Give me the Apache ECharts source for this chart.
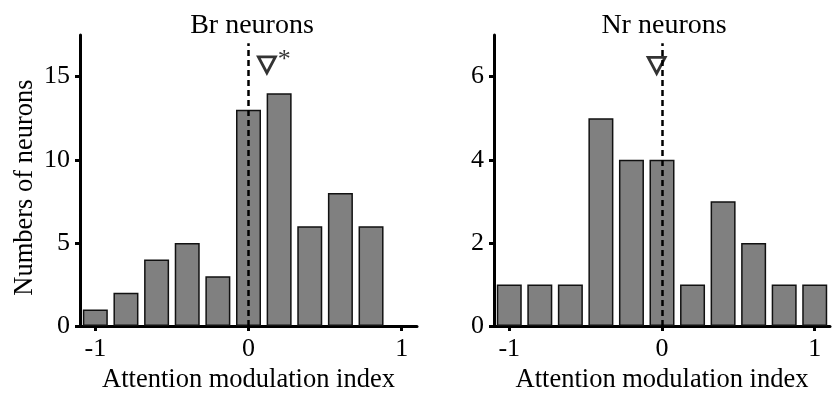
<!DOCTYPE html>
<html>
<head>
<meta charset="utf-8">
<script src="https://cdn.jsdelivr.net/npm/echarts@6/dist/echarts.min.js"></script>
<style>
  html, body { margin: 0; padding: 0; background: #fff; }
  #chart { width: 832px; height: 399px; }
</style>
</head>
<body>
<div id="chart"></div>
<script>
// bin centres (attention modulation index) and neuron counts
const binsBr = [-1, -0.8, -0.6, -0.4, -0.2, 0, 0.2, 0.4, 0.6, 0.8];
const countsBr = [1, 2, 4, 5, 3, 13, 14, 6, 8, 6];
const binsNr = [-1, -0.8, -0.6, -0.4, -0.2, 0, 0.2, 0.4, 0.6, 0.8, 1];
const countsNr = [1, 1, 1, 5, 4, 4, 1, 3, 2, 1, 1];

// mean markers (x = mean index, y = height of the marker)
const meanBr = [0.12, 15.7];
const meanNr = [-0.035, 6.27];

// top of the dashed zero line
const zeroLineTopBr = 17;
const zeroLineTopNr = 6.8;

const xTicks = [-1, 0, 1];
const yTicksBr = [0, 5, 10, 15];
const yTicksNr = [0, 2, 4, 6];

const FONT = '"Liberation Serif", "Times New Roman", serif';
const INK = '#000';

const chart = echarts.init(document.getElementById('chart'));

function xAxisFor(gridIndex) {
  return {
    type: 'value',
    gridIndex,
    min: -1.1,
    max: 1.1,
    name: 'Attention modulation index',
    nameLocation: 'middle',
    nameGap: 36,
    nameTextStyle: { fontFamily: FONT, fontSize: 26.5, color: INK },
    axisLine: { onZero: false, lineStyle: { color: INK, width: 3 } },
    axisTick: { customValues: xTicks, length: 5, lineStyle: { color: INK, width: 3 } },
    axisLabel: { customValues: xTicks, margin: 10, fontFamily: FONT, fontSize: 26, color: INK },
    splitLine: { show: false }
  };
}

function yAxisFor(gridIndex, max, ticks, name) {
  return {
    type: 'value',
    gridIndex,
    min: 0,
    max,
    name,
    nameLocation: 'middle',
    nameGap: 41,
    // nudge the rotated name a little towards the bottom, as in the original
    nameTextStyle: { fontFamily: FONT, fontSize: 26.5, color: INK, padding: [0, 14, 0, 0] },
    axisLine: { show: true, onZero: false, lineStyle: { color: INK, width: 3 } },
    axisTick: { customValues: ticks, length: 5, lineStyle: { color: INK, width: 3 } },
    axisLabel: { customValues: ticks, margin: 10, fontFamily: FONT, fontSize: 26, color: INK },
    splitLine: { show: false }
  };
}

function histSeries(idx, bins, counts, zeroTop) {
  return {
    type: 'bar',
    xAxisIndex: idx,
    yAxisIndex: idx,
    data: bins.map((b, i) => [b, counts[i]]),
    barWidth: 25,
    itemStyle: { color: '#808080', borderColor: '#111', borderWidth: 1.5 },
    markLine: {
      silent: true,
      symbol: 'none',
      label: { show: false },
      lineStyle: { color: INK, width: 2.5, type: [6, 4] },
      data: [[{ coord: [0, 0] }, { coord: [0, zeroTop] }]]
    }
  };
}

function meanSeries(idx, point, star) {
  return {
    type: 'scatter',
    xAxisIndex: idx,
    yAxisIndex: idx,
    z: 5,
    symbol: 'triangle',
    symbolRotate: 180,
    symbolSize: [17, 16],
    itemStyle: { color: 'rgba(0,0,0,0)', borderColor: INK, borderWidth: 2.8 },
    label: {
      show: !!star,
      formatter: star || '',
      position: 'right',
      distance: 1,
      offset: [0, -5],
      fontFamily: FONT,
      fontSize: 26,
      color: INK
    },
    data: [point]
  };
}

chart.setOption({
  animation: false,
  backgroundColor: '#fff',
  graphic: [
    { type: 'text', x: 252, y: 12,
      style: { text: 'Br neurons', fontFamily: FONT, fontSize: 28, fill: INK, textAlign: 'center' } },
    { type: 'text', x: 664, y: 12,
      style: { text: 'Nr neurons', fontFamily: FONT, fontSize: 28, fill: INK, textAlign: 'center' } }
  ],
  grid: [
    { left: 80, right: 415, top: 35, bottom: 67 },
    { left: 494, right: 2, top: 35, bottom: 68 }
  ],
  xAxis: [xAxisFor(0), xAxisFor(1)],
  yAxis: [
    yAxisFor(0, 17.5, yTicksBr, 'Numbers of neurons'),
    yAxisFor(1, 7, yTicksNr, '')
  ],
  series: [
    histSeries(0, binsBr, countsBr, zeroLineTopBr),
    histSeries(1, binsNr, countsNr, zeroLineTopNr),
    meanSeries(0, meanBr, '*'),
    meanSeries(1, meanNr, '')
  ]
});
</script>
</body>
</html>
